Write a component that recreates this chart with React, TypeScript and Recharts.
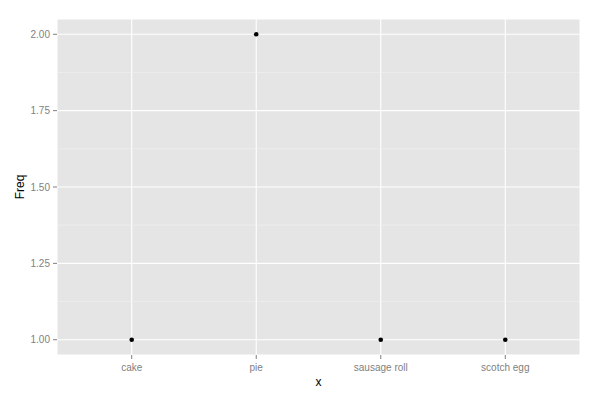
import React from 'react';
import {
  ScatterChart, Scatter, XAxis, YAxis, CartesianGrid, ReferenceLine, Label,
} from 'recharts';

const categories = ['cake', 'pie', 'sausage roll', 'scotch egg'];
const freq = [1, 2, 1, 1];
const yTicks = [1, 1.25, 1.5, 1.75, 2];
const yMinor = [1.125, 1.375, 1.625, 1.875];

const data = categories.map((name, i) => ({ name, pos: i + 1, freq: freq[i] }));
const xTicks = categories.map((_, i) => i + 1);

const FONT = '"Liberation Sans", Arial, sans-serif';

const Dot = (props: any) => <circle cx={props.cx} cy={props.cy} r={2.3} fill="#000" />;

const App = () => (
  <div style={{ position: 'absolute', left: 0, top: 0, width: 600, height: 400, background: '#fff' }}>
    <ScatterChart width={600} height={400} margin={{ top: 19, right: 20, bottom: 0, left: 0 }}>
      <CartesianGrid fill="#E5E5E5" stroke="#FFFFFF" strokeWidth={1.1} strokeDasharray="" />
      {yMinor.map((v) => (
        <ReferenceLine key={v} y={v} stroke="#F2F2F2" strokeWidth={0.6} />
      ))}
      <XAxis
        type="number"
        dataKey="pos"
        domain={[0.4, 4.6]}
        ticks={xTicks}
        tickFormatter={(v) => categories[v - 1]}
        axisLine={false}
        tickLine={{ stroke: '#7F7F7F' }}
        tickSize={4}
        tickMargin={5}
        height={45}
        tick={{ fill: '#7F7F7F', fontSize: 10, fontFamily: FONT }}
      >
        <Label
          value="x"
          position="insideBottom"
          offset={14}
          style={{ fill: '#000', fontSize: 12, fontFamily: FONT }}
        />
      </XAxis>
      <YAxis
        type="number"
        dataKey="freq"
        domain={[0.95, 2.05]}
        ticks={yTicks}
        tickFormatter={(v) => Number(v).toFixed(2)}
        axisLine={false}
        tickLine={{ stroke: '#7F7F7F' }}
        tickSize={4}
        tickMargin={3}
        width={57}
        tick={{ fill: '#7F7F7F', fontSize: 10, fontFamily: FONT }}
      >
        <Label
          content={({ viewBox }: any) => {
            const cy = viewBox.y + viewBox.height / 2;
            return (
              <text
                x={24}
                y={cy}
                transform={`rotate(-90, 24, ${cy})`}
                textAnchor="middle"
                style={{ fill: '#000', fontSize: 12, fontFamily: FONT }}
              >
                Freq
              </text>
            );
          }}
        />
      </YAxis>
      <Scatter data={data} shape={Dot} isAnimationActive={false} />
    </ScatterChart>
  </div>
);

export default App;
